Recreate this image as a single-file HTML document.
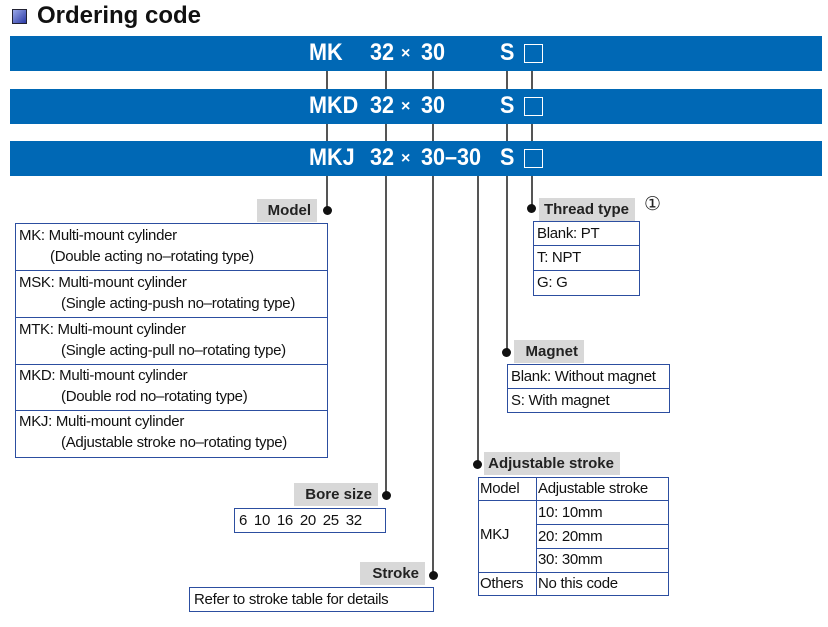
<!DOCTYPE html>
<html><head><meta charset="utf-8"><style>
body{margin:0;width:828px;height:627px;background:#fff;position:relative;overflow:hidden;font-family:"Liberation Sans",sans-serif;}
div{position:absolute;box-sizing:border-box;}
.bar{left:10px;width:812px;height:35px;background:#0068b5;}
.bt{color:#fff;font-weight:bold;font-size:24px;top:3px;white-space:pre;transform:scaleX(0.9);transform-origin:left;}
.x{color:#fff;font-weight:bold;font-size:16px;top:9px;}
.sq{width:19px;height:19px;border:1.5px solid #fff;top:8px;left:514px;}
.v{width:1.5px;background:#555;}
.dot{width:9px;height:9px;border-radius:50%;background:#111;}
.lab{background:#d8d8d8;font-weight:bold;font-size:15px;color:#222;text-align:right;padding-right:6px;line-height:23px;height:23px;}
.tb{border:1.5px solid #2c4ea0;font-size:15px;color:#111;}
.r{position:absolute;left:0;right:0;border-top:1.5px solid #2c4ea0;}
.t{position:absolute;white-space:nowrap;font-size:15px;letter-spacing:-0.3px;}
</style></head><body>
<div style="left:12px;top:9px;width:15px;height:15px;background:linear-gradient(135deg,#9aa8e8,#2b3aa6);border:1px solid #223"></div>
<div style="left:37px;top:2px;font-size:24px;font-weight:bold;color:#111;">Ordering code</div>

<div class="bar" style="top:36px"><div class="bt" style="left:299px">MK</div><div class="bt" style="left:360px">32</div><div class="x" style="left:391px">×</div><div class="bt" style="left:411px">30</div><div class="bt" style="left:490px">S</div><div class="sq"></div></div>
<div class="bar" style="top:89px"><div class="bt" style="left:299px">MKD</div><div class="bt" style="left:360px">32</div><div class="x" style="left:391px">×</div><div class="bt" style="left:411px">30</div><div class="bt" style="left:490px">S</div><div class="sq"></div></div>
<div class="bar" style="top:141px"><div class="bt" style="left:299px">MKJ</div><div class="bt" style="left:360px">32</div><div class="x" style="left:391px">×</div><div class="bt" style="left:411px">30–30</div><div class="bt" style="left:490px">S</div><div class="sq"></div></div>

<div class="v" style="left:326px;top:71px;height:18px"></div><div class="v" style="left:326px;top:124px;height:17px"></div>
<div class="v" style="left:385px;top:71px;height:18px"></div><div class="v" style="left:385px;top:124px;height:17px"></div>
<div class="v" style="left:432px;top:71px;height:18px"></div><div class="v" style="left:432px;top:124px;height:17px"></div>
<div class="v" style="left:506px;top:71px;height:18px"></div><div class="v" style="left:506px;top:124px;height:17px"></div>
<div class="v" style="left:531px;top:71px;height:18px"></div><div class="v" style="left:531px;top:124px;height:17px"></div>
<div class="v" style="left:326px;top:176px;height:34px"></div><div class="dot" style="left:323px;top:206px"></div>
<div class="v" style="left:385px;top:176px;height:319px"></div><div class="dot" style="left:382px;top:491px"></div>
<div class="v" style="left:432px;top:176px;height:399px"></div><div class="dot" style="left:429px;top:571px"></div>
<div class="v" style="left:477px;top:176px;height:288px"></div><div class="dot" style="left:473px;top:460px"></div>
<div class="v" style="left:506px;top:176px;height:176px"></div><div class="dot" style="left:502px;top:348px"></div>
<div class="v" style="left:531px;top:176px;height:32px"></div><div class="dot" style="left:527px;top:204px"></div>

<div class="lab" style="left:257px;top:199px;width:60px">Model</div>
<div class="tb" style="left:15px;top:223px;width:313px;height:235px">
<div class="r" style="top:46px"></div><div class="r" style="top:93px"></div><div class="r" style="top:140px"></div><div class="r" style="top:186px"></div>
<div class="t" style="left:3px;top:3px">MK: Multi-mount cylinder</div><div class="t" style="left:34px;top:24px">(Double acting no–rotating type)</div>
<div class="t" style="left:3px;top:50px">MSK: Multi-mount cylinder</div><div class="t" style="left:45px;top:71px">(Single acting-push no–rotating type)</div>
<div class="t" style="left:3px;top:97px">MTK: Multi-mount cylinder</div><div class="t" style="left:45px;top:118px">(Single acting-pull no–rotating type)</div>
<div class="t" style="left:3px;top:143px">MKD: Multi-mount cylinder</div><div class="t" style="left:45px;top:164px">(Double rod no–rotating type)</div>
<div class="t" style="left:3px;top:189px">MKJ: Multi-mount cylinder</div><div class="t" style="left:45px;top:210px">(Adjustable stroke no–rotating type)</div>
</div>

<div class="lab" style="left:539px;top:198px;width:96px">Thread type</div>
<div style="left:644px;top:193px;font-size:19px;color:#222">①</div>
<div class="tb" style="left:533px;top:221px;width:107px;height:75px">
<div class="r" style="top:23px"></div><div class="r" style="top:48px"></div>
<div class="t" style="left:3px;top:3px">Blank: PT</div><div class="t" style="left:3px;top:27px">T: NPT</div><div class="t" style="left:3px;top:52px">G: G</div>
</div>

<div class="lab" style="left:514px;top:340px;width:70px">Magnet</div>
<div class="tb" style="left:507px;top:364px;width:163px;height:49px">
<div class="r" style="top:23px"></div>
<div class="t" style="left:3px;top:3px">Blank: Without magnet</div><div class="t" style="left:3px;top:27px">S: With magnet</div>
</div>

<div class="lab" style="left:484px;top:452px;width:136px">Adjustable stroke</div>
<div class="tb" style="left:478px;top:477px;width:191px;height:119px">
<div class="r" style="top:22px"></div>
<div class="r" style="top:70px;left:57px"></div><div class="r" style="top:46px;left:57px"></div><div class="r" style="top:94px"></div>
<div style="left:57px;top:0;bottom:0;border-left:1.5px solid #2c4ea0"></div>
<div class="t" style="left:1px;top:2px">Model</div><div class="t" style="left:59px;top:2px">Adjustable stroke</div>
<div class="t" style="left:1px;top:48px">MKJ</div>
<div class="t" style="left:59px;top:26px">10: 10mm</div><div class="t" style="left:59px;top:50px">20: 20mm</div><div class="t" style="left:59px;top:73px">30: 30mm</div>
<div class="t" style="left:1px;top:97px">Others</div><div class="t" style="left:59px;top:97px">No this code</div>
</div>

<div class="lab" style="left:294px;top:483px;width:84px">Bore size</div>
<div class="tb" style="left:234px;top:508px;width:152px;height:25px">
<div class="t" style="left:4px;top:3px;word-spacing:3px">6 10 16 20 25 32</div></div>

<div class="lab" style="left:360px;top:562px;width:65px">Stroke</div>
<div class="tb" style="left:189px;top:587px;width:245px;height:25px">
<div class="t" style="left:4px;top:3px">Refer to stroke table for details</div></div>
</body></html>
